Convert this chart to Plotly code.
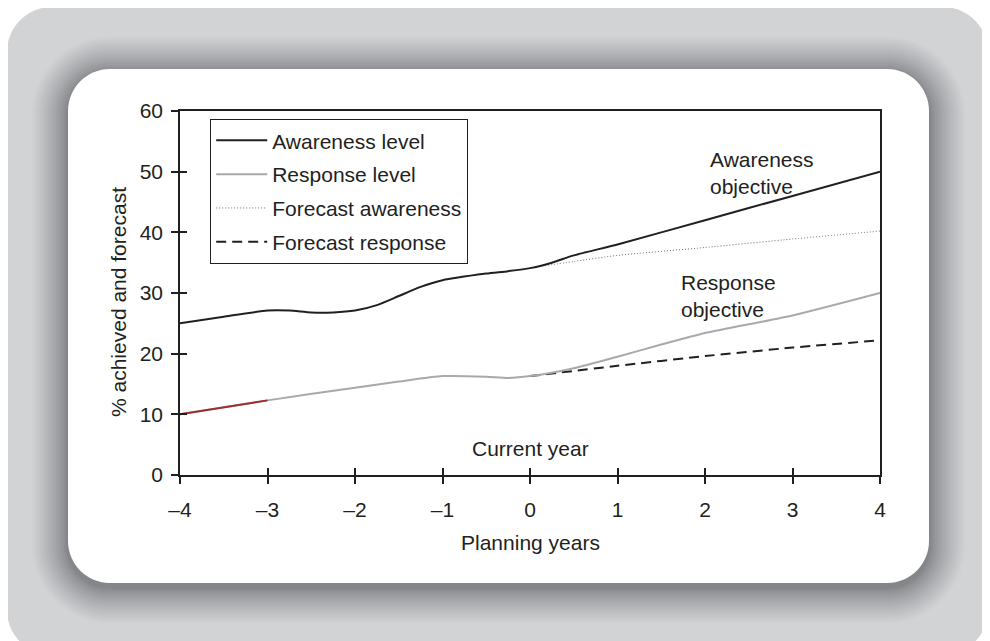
import plotly.graph_objects as go

# ---------------- data ----------------
years_awareness = [-4, -3.5, -3, -2.75, -2.5, -2.25, -2, -1.75, -1.5, -1.25, -1, -0.5, -0.25, 0, 0.25, 0.5, 1, 2, 3, 4]
awareness_level = [25.0, 26.1, 27.1, 27.1, 26.8, 26.8, 27.1, 28.0, 29.5, 31.0, 32.1, 33.2, 33.6, 34.1, 35.0, 36.2, 38.0, 42.0, 46.0, 50.0]

years_response = [-4, -3, -2, -1.5, -1, -0.5, -0.25, 0, 0.5, 1, 1.5, 2, 3, 4]
response_level = [10.0, 12.3, 14.4, 15.4, 16.3, 16.2, 16.0, 16.3, 17.6, 19.5, 21.5, 23.4, 26.3, 30.0]

years_forecast_aw = [0, 0.5, 1, 2, 3, 4]
forecast_awareness = [34.1, 35.2, 36.2, 37.5, 38.9, 40.2]

years_forecast_resp = [0, 1, 2, 3, 4]
forecast_response = [16.3, 18.0, 19.6, 21.0, 22.2]

years_red_segment = [-4, -3]
red_segment = [10.0, 12.3]

x_tick_values = [-4, -3, -2, -1, 0, 1, 2, 3, 4]
x_tick_labels = ["–4", "–3", "–2", "–1", "0", "1", "2", "3", "4"]
y_tick_values = [0, 10, 20, 30, 40, 50, 60]

# ---------------- layout geometry ----------------
# the page body has an 8px default margin, so the figure sits at (8, 8) on screen
OFF = 8
FIG_W, FIG_H = 990 - OFF, 641 - OFF
ML, MT = 180 - OFF, 111 - OFF
MR, MB = 110, 166
PW, PH = FIG_W - ML - MR, FIG_H - MT - MB
FONT = "Liberation Sans, Arial, Helvetica, sans-serif"
TXT = "#231f20"


def px2paper(px, py):
    """screen pixel -> paper coordinates"""
    fx, fy = px - OFF, py - OFF
    return (fx - ML) / PW, (FIG_H - MB - fy) / PH


def rrect_path(x0, y0, x1, y1, r):
    k = 0.5523 * r

    def P(x, y):
        a, b = px2paper(x, y)
        return f"{a:.5f},{b:.5f}"
    s = f"M{P(x0 + r, y0)} L{P(x1 - r, y0)} "
    s += f"C{P(x1 - r + k, y0)} {P(x1, y0 + r - k)} {P(x1, y0 + r)} "
    s += f"L{P(x1, y1 - r)} "
    s += f"C{P(x1, y1 - r + k)} {P(x1 - r + k, y1)} {P(x1 - r, y1)} "
    s += f"L{P(x0 + r, y1)} "
    s += f"C{P(x0 + r - k, y1)} {P(x0, y1 - r + k)} {P(x0, y1 - r)} "
    s += f"L{P(x0, y0 + r)} "
    s += f"C{P(x0, y0 + r - k)} {P(x0 + r - k, y0)} {P(x0 + r, y0)} Z"
    return s


def mix(c1, c2, t):
    a = [int(c1[i:i + 2], 16) for i in (1, 3, 5)]
    b = [int(c2[i:i + 2], 16) for i in (1, 3, 5)]
    return "#" + "".join(f"{round(a[i] + (b[i] - a[i]) * t):02x}" for i in range(3))


shapes = []
# outer grey frame
shapes.append(dict(type="path", xref="paper", yref="paper", layer="below",
                   path=rrect_path(7, 7, 988, 655, 45), fillcolor="#d2d3d5", line=dict(width=0)))
# soft shadow around the card
CX0, CY0, CX1, CY1, CR = 68, 69, 929, 583, 42
LIGHT, DARK = "#d2d3d5", "#7c7d81"
N = 19
SPREAD = 38
DY = 4
for i in range(N, 0, -1):
    d = SPREAD * i / N
    t = (i / N) ** 0.75
    col = mix(DARK, LIGHT, t)
    shapes.append(dict(type="path", xref="paper", yref="paper", layer="below",
                       path=rrect_path(CX0 - d, CY0 - d + DY, CX1 + d, CY1 + d + DY, CR + d),
                       fillcolor=col, line=dict(width=0)))
# white card
shapes.append(dict(type="path", xref="paper", yref="paper", layer="below",
                   path=rrect_path(CX0, CY0, CX1, CY1, CR), fillcolor="#ffffff", line=dict(width=0)))

fig = go.Figure()

# forecast lines first so the level lines are drawn on top
fig.add_trace(go.Scatter(x=years_forecast_aw, y=forecast_awareness, name="Forecast awareness",
                         mode="lines", legendgroup="c", legendrank=3,
                         line=dict(color="#6d6e71", width=1, dash="1px,2px", shape="spline", smoothing=0.5)))
fig.add_trace(go.Scatter(x=years_forecast_resp, y=forecast_response, name="Forecast response",
                         mode="lines", legendgroup="d", legendrank=4,
                         line=dict(color=TXT, width=2, dash="10px,6px", shape="spline", smoothing=0.5)))
fig.add_trace(go.Scatter(x=years_awareness, y=awareness_level, name="Awareness level",
                         mode="lines", legendgroup="a", legendrank=1,
                         line=dict(color=TXT, width=2, shape="spline", smoothing=0.6)))
fig.add_trace(go.Scatter(x=years_response, y=response_level, name="Response level",
                         mode="lines", legendgroup="b", legendrank=2,
                         line=dict(color="#a7a9ac", width=2, shape="spline", smoothing=0.6)))
fig.add_trace(go.Scatter(x=years_red_segment, y=red_segment, name="Response level",
                         mode="lines", legendgroup="b", showlegend=False,
                         line=dict(color="#9b2f2f", width=2)))

axis_common = dict(showgrid=False, zeroline=False, linecolor=TXT, linewidth=1.5,
                   tickcolor=TXT, tickwidth=1.5, ticklen=7,
                   tickfont=dict(family=FONT, size=21, color=TXT))

lx, ly = px2paper(210, 119)
fig.update_layout(
    width=FIG_W, height=FIG_H,
    margin=dict(l=ML, r=MR, t=MT, b=MB, pad=0),
    paper_bgcolor="#ffffff", plot_bgcolor="rgba(0,0,0,0)",
    font=dict(family=FONT, size=21, color=TXT),
    shapes=shapes,
    xaxis=dict(range=[-4, 4], tickvals=x_tick_values, ticktext=x_tick_labels,
               ticks="outside", showline=True, mirror=True, ticklabelstandoff=8,
               **axis_common),
    yaxis=dict(range=[0, 60], tickvals=y_tick_values, ticks="outside",
               showline=True, mirror=True, ticklabelstandoff=4, **axis_common),
    xaxis2=dict(overlaying="x", anchor="y", side="bottom", range=[-4, 4],
                tickvals=x_tick_values, ticks="inside", showticklabels=False,
                showline=False, showgrid=False, zeroline=False,
                tickcolor=TXT, tickwidth=1.5, ticklen=7),
    yaxis2=dict(overlaying="y", anchor="x", side="left", range=[0, 60],
                tickvals=y_tick_values, ticks="inside", showticklabels=False,
                showline=False, showgrid=False, zeroline=False,
                tickcolor=TXT, tickwidth=1.5, ticklen=7),
    legend=dict(x=lx, y=ly, xanchor="left", yanchor="top",
                bgcolor="#ffffff", bordercolor=TXT, borderwidth=1.2,
                font=dict(family=FONT, size=21, color=TXT),
                itemwidth=51, traceorder="grouped", tracegroupgap=3.5,
                entrywidth=210, entrywidthmode="pixels"),
    showlegend=True,
)

# invisible trace to activate the overlay axes carrying the inner half of the ticks
fig.add_trace(go.Scatter(x=[-4], y=[0], xaxis="x2", yaxis="y2", mode="markers",
                         marker=dict(opacity=0), showlegend=False, hoverinfo="skip"))

annotations = [
    dict(text="Awareness<br>objective", x=2.034, y=49.8, xref="x", yref="y",
         xanchor="left", yanchor="middle", align="left", showarrow=False),
    dict(text="Response<br>objective", x=1.70, y=29.5, xref="x", yref="y",
         xanchor="left", yanchor="middle", align="left", showarrow=False),
    dict(text="Current year", x=0, y=4.45, xref="x", yref="y",
         xanchor="center", yanchor="middle", showarrow=False),
    dict(text="Planning years", x=px2paper(530, 0)[0], y=px2paper(0, 542)[1],
         xref="paper", yref="paper", xanchor="center", yanchor="middle", showarrow=False),
    dict(text="% achieved and forecast", x=px2paper(118, 0)[0], y=px2paper(0, 302)[1],
         xref="paper", yref="paper", xanchor="center", yanchor="middle",
         textangle=-90, showarrow=False),
]
for a in annotations:
    a["font"] = dict(family=FONT, size=21, color=TXT)
fig.update_layout(annotations=annotations)

fig.write_html("out.html")
